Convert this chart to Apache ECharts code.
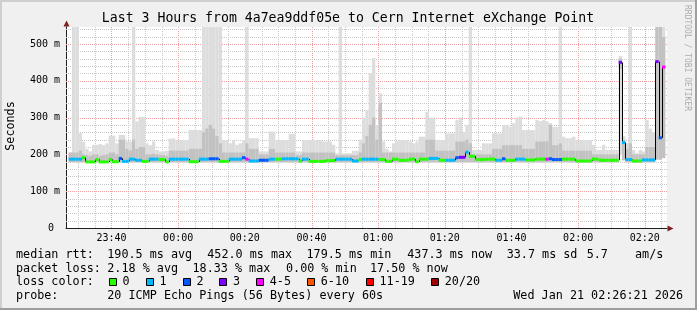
<!DOCTYPE html>
<html><head><meta charset="utf-8">
<script src="https://cdn.jsdelivr.net/npm/echarts@6/dist/echarts.min.js"></script>
<style>html,body{margin:0;padding:0;background:#f0f0f0}#c{width:697px;height:310px}</style>
</head><body><div id="c"></div>
<script>
// ---------------- data ----------------
const TITLE = 'Last 3 Hours from 4a7ea9ddf05e to Cern Internet eXchange Point';
const START_MIN = 27.15;            // start of first 60 s bin, minutes after 23:00
const TICK_MINUTES = [40, 60, 80, 100, 120, 140, 160, 180, 200];
const TICK_LABELS = ['23:40','00:00','00:20','00:40','01:00','01:20','01:40','02:00','02:20'];
const Y_TICKS = [0, 100, 200, 300, 400, 500];
const LOSS_LABELS = ['0','1','2','3','4-5','6-10','11-19','20/20'];
const LOSS_COLORS = ['#26ff00','#00b8ff','#0059ff','#7e00ff','#ff00ff','#ff5500','#ff0000','#a10000'];

// median rtt per minute (ms)
const median = [
187,187,187,187,191,179.5,179.5,179.5,186,179.5,
179.5,179.5,186,180,180,189,181,181,187,187,
184,184,181,181,187,187,187,186,186,179.5,
187,187,187,187,187,187,180,180,180,187,
187,187,188,188,188,181,181,181,187,187,
187,187,191,187,182,182,182,184,184,184,
187,187,187,187,188,188,188,188,188,182,
187,187,181,181,181,181,181,183,183,183,
187,187,187,187,187,182,182,186,187,187,
187,187,187,186,186,181,181,187,187,184,
184,184,187,187,180,187,187,187,189,189,
189,184,184,184,184,184,191,192,192,206,
195,195,186,186,186,187,187,187,184,184,
188,184,184,184,187,187,187,185,185,185,
187,187,187,187,188,186,186,186,187,187,
187,187,182,182,182,182,182,187,187,184,
184,184,184,184,184,450,232,186,186,182,
182,182,185,185,185,185,452,245,437.3];
// lost pings (of 20) per minute
const loss = [
1,1,1,1,0,0,0,0,0,0,
0,0,0,0,0,2,1,1,1,1,
1,1,0,0,1,1,1,0,0,0,
1,1,1,1,1,1,0,0,0,1,
1,1,2,2,2,0,0,0,1,1,
1,1,2,4,1,1,1,2,2,2,
1,1,0,0,1,1,1,1,1,0,
1,1,0,0,0,0,0,0,0,0,
1,1,1,1,1,1,1,0,1,1,
1,1,1,0,0,0,0,0,0,0,
0,0,0,0,0,0,0,0,1,1,
1,0,0,1,1,1,2,3,3,1,
0,0,0,0,0,0,0,0,1,1,
2,0,0,0,1,1,1,0,0,0,
0,0,0,4,2,2,2,2,0,0,
0,0,0,0,0,0,0,0,0,0,
0,0,0,0,0,3,1,1,1,0,
0,0,1,1,1,1,3,2,4];
// smoke: lowest ping, inner band low/high, highest ping (ms)
const smokeLow = [
177,177,177,177,177,177,177,177,177,177,
177,177,177,177,177,177,177,177,177,177,
177,177,177,177,177,177,177,177,177,177,
177,177,177,177,177,177,177,177,177,177,
177,177,177,177,177,177,177,177,177,177,
177,177,177,177,177,177,177,177,177,177,
177,177,177,177,177,177,177,177,177,177,
177,177,177,177,177,177,177,177,177,177,
177,177,177,177,177,177,177,177,177,177,
177,177,177,177,177,177,177,177,177,177,
177,177,177,177,177,177,177,177,177,177,
177,177,177,177,177,177,177,177,177,177,
177,177,177,177,177,177,177,177,177,177,
177,177,177,177,177,177,177,177,177,177,
177,177,177,177,177,177,177,177,177,177,
177,177,177,177,177,177,177,177,177,177,
177,177,177,177,177,200,184,177,177,177,
177,177,177,177,177,177,185,185,190];
const midLow = [
179,179,179,179,179,179,179,179,179,179,
179,179,179,179,179,179,179,179,179,179,
179,179,179,179,179,179,179,179,179,179,
179,179,179,179,179,179,179,179,179,179,
179,179,179,179,179,179,179,179,179,179,
179,179,179,179,179,179,179,179,179,179,
179,179,179,179,179,179,179,179,179,179,
179,179,179,179,179,179,179,179,179,179,
179,179,179,179,179,179,179,179,179,179,
179,179,179,179,179,179,179,179,179,179,
179,179,179,179,179,179,179,179,179,179,
179,179,179,179,179,179,179,179,179,179,
179,179,179,179,179,179,179,179,179,179,
179,179,179,179,179,179,179,179,179,179,
179,179,179,179,179,179,179,179,179,179,
179,179,179,179,179,179,179,179,179,179,
179,179,179,179,179,432,184,179,179,179,
179,179,179,179,179,179,186,186,190];
const midHigh = [
205,205,205,210,200,198,196,200,200,196,
198,200,205,205,200,240,240,215,210,240,
215,220,220,200,200,202,200,198,198,196,
210,210,210,210,210,210,215,215,215,215,
260,270,280,270,250,230,205,205,205,205,
205,205,205,230,215,215,215,200,200,200,
215,215,205,205,205,205,205,205,198,198,
205,205,205,205,205,205,205,205,205,205,
198,198,198,198,198,198,198,205,230,250,
280,300,240,340,205,205,205,205,205,205,
205,205,205,205,205,205,205,240,240,240,
210,210,210,210,210,210,235,235,235,240,
230,200,200,200,200,200,200,215,215,215,
225,225,225,225,225,225,215,215,215,215,
235,235,235,235,280,225,225,230,210,210,
210,210,210,210,210,210,210,200,200,200,
200,200,200,200,200,460,240,215,230,200,
200,200,200,220,220,220,600,600,519];
const smokeMax = [
205,600,600,258,234,215,208,226,226,228,
225,230,251,251,230,253,253,235,235,600,
290,302,302,230,225,235,212,208,208,210,
243,243,239,239,239,239,266,266,266,266,
600,600,600,600,600,600,239,239,230,239,
226,230,239,600,244,244,244,208,208,208,
262,262,239,239,239,239,256,256,208,208,
239,239,239,239,239,239,235,235,235,226,
203,600,203,203,203,210,210,240,300,320,
420,462,280,366,235,215,208,230,235,239,
239,239,235,230,235,248,248,315,300,300,
239,239,239,257,257,257,293,300,260,280,
600,212,212,212,230,230,230,257,257,257,
280,280,275,285,300,302,266,266,266,266,
293,290,293,290,285,275,275,600,248,244,
244,248,239,239,239,239,239,226,212,212,
226,212,212,212,212,467,250,230,600,212,
203,212,208,293,270,260,600,600,600];

const LEGEND_ROWS = [
  ['median rtt:', '190.5 ms avg', '452.0 ms max', '179.5 ms min', '437.3 ms now', '33.7 ms sd', '5.7', 'am/s'],
  ['packet loss:', '2.18 % avg', '18.33 % max', '0.00 % min', '17.50 % now'],
  ['probe:', '20 ICMP Echo Pings (56 Bytes) every 60s', 'Wed Jan 21 02:26:21 2026']
];

// ---------------- layout / style ----------------
const XMIN = 26.35, XMAX = 206.65, YMAX = 546;
const MONO = '"DejaVu Sans Mono", "Liberation Mono", monospace';
const GRAY_GRID = '#c8c8c8', RED_GRID = '#f0a0a0';
function lossIdx(l){ if (l <= 3) return l; if (l <= 5) return 4; if (l <= 10) return 5; if (l <= 19) return 6; return 7; }

const vMinor = []; for (let m = 30; m <= 205; m += 5) if (m % 20 !== 0) vMinor.push(m);
const hMinor = []; for (let v = 20; v <= 540; v += 20) if (v % 100 !== 0) hMinor.push(v);
const hMajor = Y_TICKS.filter(v => v > 0);

const chart = echarts.init(document.getElementById('c'), null, {renderer: 'canvas', width: 697, height: 310});

const gridV = {
  type: 'custom', silent: true, z: 1, clip: true,
  data: vMinor.map(m => [m, 0, 0]).concat(TICK_MINUTES.map(m => [m, 0, 1])),
  encode: {x: 0, y: 1},
  renderItem(p, api) {
    const b = api.coord([api.value(0), 0]), t = api.coord([api.value(0), YMAX]);
    const x = Math.round(b[0]) + 0.5;
    return {type: 'line', shape: {x1: x, y1: t[1], x2: x, y2: b[1]},
      style: {stroke: api.value(2) ? RED_GRID : GRAY_GRID, lineWidth: 1, lineDash: [1, 1]}};
  }
};
const gridH = {
  type: 'custom', silent: true, z: 1, clip: true,
  data: hMinor.map(v => [XMIN, v, 0]).concat(hMajor.map(v => [XMIN, v, 1])),
  encode: {x: 0, y: 1},
  renderItem(p, api) {
    const a = api.coord([XMIN, api.value(1)]), b = api.coord([XMAX, api.value(1)]);
    const y = Math.round(a[1]) + 0.5;
    return {type: 'line', shape: {x1: a[0], y1: y, x2: b[0], y2: y},
      style: {stroke: api.value(2) ? RED_GRID : GRAY_GRID, lineWidth: 1, lineDash: [1, 1]}};
  }
};
const smoke = {
  type: 'custom', silent: true, z: 2, clip: true,
  data: median.map((m, i) => [START_MIN + i, smokeLow[i], smokeMax[i], midLow[i], midHigh[i]]),
  encode: {x: 0, y: [1, 2]},
  renderItem(p, api) {
    const t = api.value(0);
    const a = api.coord([t, api.value(1)]), b = api.coord([t + 1, api.value(2)]);
    const c = api.coord([t, api.value(3)]), d = api.coord([t + 1, api.value(4)]);
    return {type: 'group', children: [
      {type: 'rect', shape: {x: a[0], y: b[1], width: b[0] - a[0], height: a[1] - b[1]}, style: {fill: '#dddddd'}},
      {type: 'rect', shape: {x: c[0], y: d[1], width: d[0] - c[0], height: c[1] - d[1]}, style: {fill: '#c2c2c2'}}
    ]};
  }
};
const medianSeries = {
  type: 'custom', silent: true, z: 3, clip: true,
  data: median.map((m, i) => [START_MIN + i, m, loss[i]]),
  encode: {x: 0, y: 1},
  renderItem(p, api) {
    const i = p.dataIndex, t = api.value(0), v = api.value(1);
    const a = api.coord([t, v]), b = api.coord([t + 1, v]);
    const ch = [];
    if (i > 0) {
      const c = api.coord([t, median[i - 1]]);
      const x = Math.round(a[0]) + 0.5;
      ch.push({type: 'line', shape: {x1: x, y1: c[1], x2: x, y2: a[1]}, style: {stroke: '#000', lineWidth: 1}});
    }
    ch.push({type: 'rect', shape: {x: a[0], y: a[1] - 1.5, width: b[0] - a[0], height: 3},
      style: {fill: LOSS_COLORS[lossIdx(api.value(2))]}});
    return {type: 'group', children: ch};
  }
};

// graphic decorations
const LEG_FONT = '11.75px ' + MONO;
const g = [];
function txt(s, x, y, extra) {
  g.push(Object.assign({type: 'text', x: x, y: y, silent: true,
    style: {text: s, font: LEG_FONT, fill: '#000', align: 'left', verticalAlign: 'middle',
      textAlign: 'left', textVerticalAlign: 'middle'}}, extra || {}));
}
// frame
g.push({type: 'rect', shape: {x: 0, y: 0, width: 697, height: 2}, style: {fill: '#cfcfcf'}, silent: true});
g.push({type: 'rect', shape: {x: 0, y: 0, width: 2, height: 310}, style: {fill: '#cfcfcf'}, silent: true});
g.push({type: 'rect', shape: {x: 0, y: 308, width: 697, height: 2}, style: {fill: '#9e9e9e'}, silent: true});
g.push({type: 'rect', shape: {x: 695, y: 0, width: 2, height: 310}, style: {fill: '#9e9e9e'}, silent: true});
// title
g.push({type: 'text', x: 348, y: 19, silent: true, style: {text: TITLE, font: '13.2px ' + MONO, fill: '#000',
  align: 'center', verticalAlign: 'middle', textAlign: 'center', textVerticalAlign: 'middle'}});
// y axis name
g.push({type: 'text', x: 10.5, y: 126, rotation: Math.PI / 2, silent: true, style: {text: 'Seconds', font: LEG_FONT,
  fill: '#000', align: 'center', verticalAlign: 'middle', textAlign: 'center', textVerticalAlign: 'middle'}});
// watermark
g.push({type: 'text', x: 687, y: 58, rotation: -Math.PI / 2, silent: true, style: {text: 'RRDTOOL / TOBI OETIKER',
  font: '8px ' + MONO, fill: 'rgba(0,0,0,0.3)', align: 'center', verticalAlign: 'middle', textAlign: 'center', textVerticalAlign: 'middle'}});
// axis arrows
g.push({type: 'polygon', silent: true, shape: {points: [[63.5, 26.5], [69.5, 26.5], [66.5, 20.5]]}, style: {fill: '#801f1f'}});
g.push({type: 'polygon', silent: true, shape: {points: [[667.5, 225.5], [667.5, 231.5], [673.5, 228.5]]}, style: {fill: '#801f1f'}});
// legend rows
const ROW_Y = [255, 269, 282.3, 295.7];
const ROW1_X = [16, 107.3, 207.3, 306.5, 407.3, 506.7, 586.7, 635];
const ROW2_X = [16, 107.3, 192.5, 286, 370];
const ROW4_X = [16, 107.3, 513.3];
LEGEND_ROWS[0].forEach((s, k) => txt(s, ROW1_X[k], ROW_Y[0]));
LEGEND_ROWS[1].forEach((s, k) => txt(s, ROW2_X[k], ROW_Y[1]));
LEGEND_ROWS[2].forEach((s, k) => txt(s, ROW4_X[k], ROW_Y[3]));
txt('loss color:', 16, ROW_Y[2]);
const BOX_X = [108.7, 145.7, 182.7, 219.3, 256, 307, 365.7, 431];
LOSS_LABELS.forEach((s, k) => {
  const bx = Math.round(BOX_X[k]) + 0.5;
  g.push({type: 'rect', silent: true, shape: {x: bx, y: 278.5, width: 7, height: 7},
    style: {fill: LOSS_COLORS[k], stroke: '#000', lineWidth: 1}});
  txt(s, BOX_X[k] + 13.8, ROW_Y[2]);
});

chart.setOption({
  animation: false,
  backgroundColor: '#f0f0f0',
  grid: {left: 66, top: 27, width: 601, height: 201, show: true, backgroundColor: '#ffffff', borderWidth: 0,
    containLabel: false, outerBoundsMode: 'none'},
  xAxis: {
    type: 'value', min: XMIN, max: XMAX,
    axisLine: {show: true, onZero: false, lineStyle: {color: '#1f1f1f', width: 1}},
    axisTick: {show: false},
    axisLabel: {customValues: TICK_MINUTES, formatter: v => TICK_LABELS[TICK_MINUTES.indexOf(v)] || '',
      fontFamily: '"DejaVu Sans Mono"', fontSize: 10, color: '#000', margin: 5},
    splitLine: {show: false}, minorSplitLine: {show: false}
  },
  yAxis: {
    type: 'value', min: 0, max: YMAX,
    axisLine: {show: true, lineStyle: {color: '#1f1f1f', width: 1}},
    axisTick: {show: false},
    axisLabel: {customValues: Y_TICKS, formatter: v => v === 0 ? '0 ' : v + ' m',
      fontFamily: '"DejaVu Sans Mono"', fontSize: 10, color: '#000', margin: 6},
    splitLine: {show: false}
  },
  series: [gridV, gridH, smoke, medianSeries],
  graphic: g
});
</script>
</body></html>
